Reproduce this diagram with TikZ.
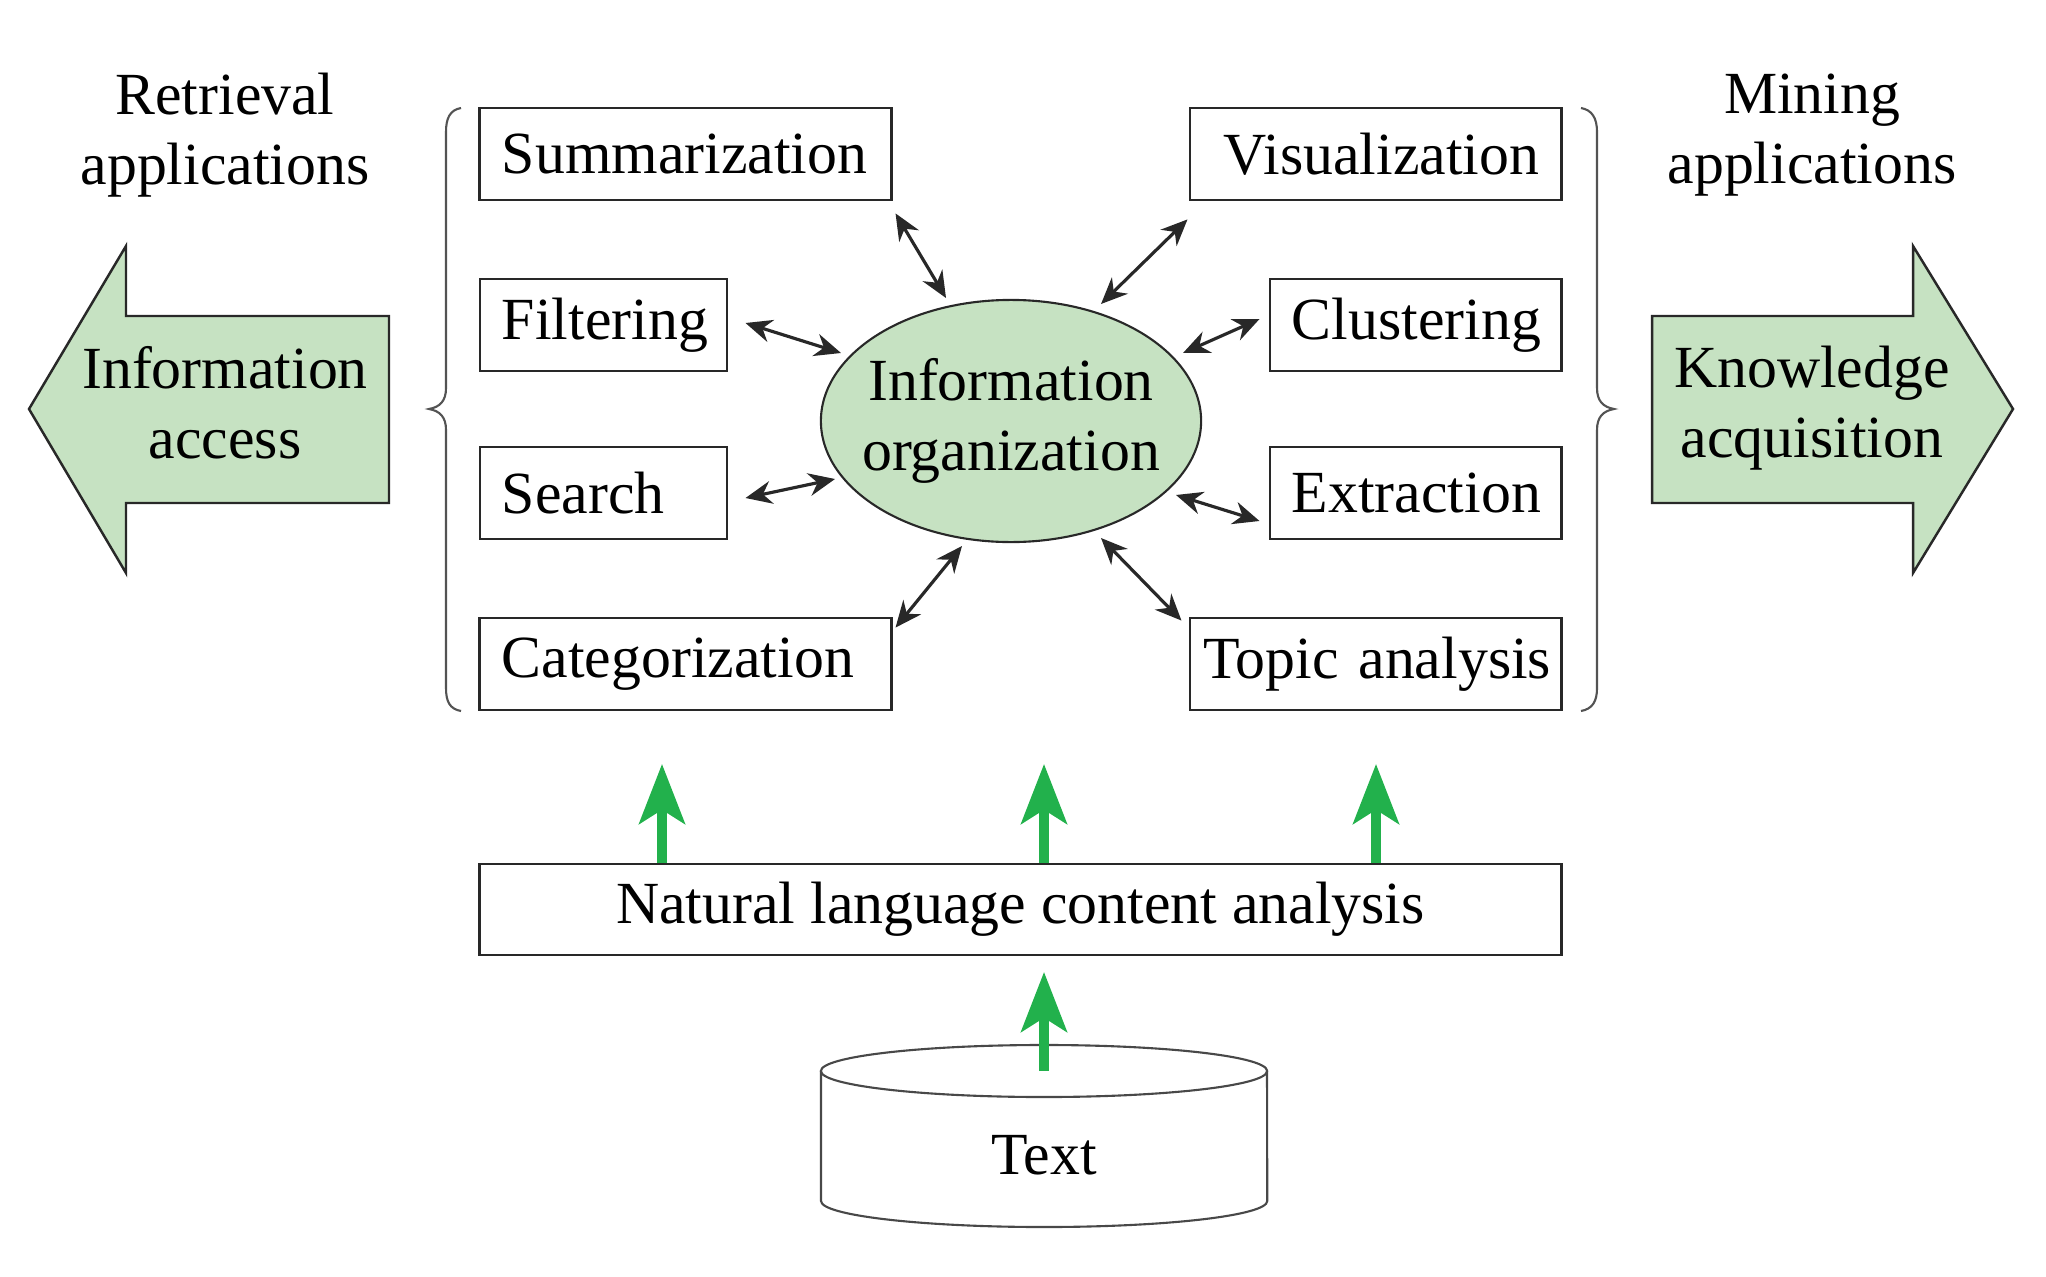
\documentclass[tikz,border=0pt]{standalone}
\usepackage{fontspec}
\setmainfont{Liberation Serif}
\usetikzlibrary{arrows.meta,shapes.geometric,calc}
\definecolor{lgreen}{RGB}{198,226,194}
\definecolor{agreen}{RGB}{34,177,76}
\definecolor{edge}{RGB}{40,40,40}
\begin{document}
\begin{tikzpicture}[x=0.01cm,y=-0.01cm,
  every node/.style={font=\fontsize{17}{20}\selectfont, text=black},
  box/.style={draw=edge, line width=0.8pt, minimum height=0.92cm, inner xsep=0.22cm, inner ysep=0pt},
  lbox/.style={box, align=left},
  rbox/.style={box, align=right},
  dbl/.style={{Stealth[length=7.5pt,width=6.5pt]}-{Stealth[length=7.5pt,width=6.5pt]}, line width=0.9pt, draw=edge},
  garrow/.style={-{Stealth[length=17pt,width=13pt,inset=4pt]}, line width=2.6pt, draw=agreen},
  bigarrow/.style={fill=lgreen, draw=edge, line width=0.7pt},
  bracestyle/.style={draw=edge!80, line width=0.6pt},
  plain/.style={align=center, inner sep=0pt}]
\useasboundingbox (0,0) rectangle (2046,1276);

% side headings
\node[plain] (ret) at (225,135) {Retrieval\\applications};
\node[plain] (min) at (1812,135) {Mining\\applications};

% big arrows
\draw[bigarrow] (29,409) -- (126,246) -- (126,316) -- (389,316) -- (389,503) -- (126,503) -- (126,573) -- cycle;
\node[plain] (acc) at (225,403) {Information\\access};
\draw[bigarrow] (2013,409) -- (1913,246) -- (1913,316) -- (1652,316) -- (1652,503) -- (1913,503) -- (1913,573) -- cycle;
\node[plain] (kno) at (1812,408) {Knowledge\\acquisition};

% braces
\draw[bracestyle] (461,108) .. controls (450,110) and (446,118) .. (446,132) -- (446,388)
  .. controls (446,401) and (440,407) .. (429,409) .. controls (440,411) and (446,417) .. (446,430)
  -- (446,688) .. controls (446,702) and (450,709) .. (461,711);
\draw[bracestyle] (1581,108) .. controls (1592,110) and (1597,118) .. (1597,132) -- (1597,388)
  .. controls (1597,401) and (1603,407) .. (1614,409) .. controls (1603,411) and (1597,417) .. (1597,430)
  -- (1597,688) .. controls (1597,702) and (1592,709) .. (1581,711);

% application boxes
\node[lbox, text width=3.67cm] (sum) at (685.5,154) {Summarization};
\node[lbox, text width=2.03cm] (fil) at (603.5,325) {Filtering};
\node[lbox, text width=2.03cm] (sea) at (603.5,493) {Search};
\node[lbox, text width=3.67cm] (cat) at (685.5,664) {Categorization};
\node[rbox, text width=3.27cm] (vis) at (1375.5,154) {Visualization};
\node[rbox, text width=2.47cm] (clu) at (1415.5,325) {Clustering};
\node[rbox, text width=2.47cm] (ext) at (1415.5,493) {Extraction};
\node[rbox, inner xsep=0.1cm, text width=3.51cm] (top) at (1375.5,664) {Topic analysis};

% central ellipse
\node[ellipse, fill=lgreen, draw=edge, line width=0.6pt, minimum width=3.8cm, minimum height=2.42cm, inner sep=0pt] (org) at (1011,421) {};
\node[plain] (orgtxt) at (org.center) {Information\\organization};

% double arrows
\draw[dbl] ($(sum.south east)+(3,12)$) -- ($(org.center)+(-65,-123)$);
\draw[dbl] ($(fil.east)+(17,-2)$) -- ($(org.center)+(-170,-68)$);
\draw[dbl] ($(sea.east)+(17,5)$) -- ($(org.center)+(-176,58)$);
\draw[dbl] ($(cat.north east)+(3,11)$) -- ($(org.center)+(-49,125)$);
\draw[dbl] ($(vis.south west)+(-1,18)$) -- ($(org.center)+(90,-117)$);
\draw[dbl] ($(clu.west)+(-9,-6)$) -- ($(org.center)+(172,-68)$);
\draw[dbl] ($(ext.west)+(-9,28)$) -- ($(org.center)+(165,74)$);
\draw[dbl] ($(top.north west)+(-7,4)$) -- ($(org.center)+(90,117)$);

% NL box
\node[box, minimum width=10.81cm, minimum height=0.91cm] (nl) at (1020.5,909.5) {Natural language content analysis};

% green arrows up
\coordinate (g1) at (662,764);
\coordinate (g2) at (1044,764);
\coordinate (g3) at (1376,764);
\draw[garrow] (nl.north -| g1) -- (g1);
\draw[garrow] (nl.north -| g2) -- (g2);
\draw[garrow] (nl.north -| g3) -- (g3);

% cylinder
\coordinate (cyltop) at (1044,1071);
\draw[draw=edge!85, line width=0.6pt] (cyltop) ellipse [x radius=2.23cm, y radius=0.26cm];
\draw[draw=edge!85, line width=0.6pt] (821,1071) -- (821,1201) arc[start angle=180, end angle=360, x radius=2.23cm, y radius=0.26cm] -- (1267,1071);
\node[plain] (txt) at (1044,1155) {Text};

\coordinate (g4) at (1044,972);
\draw[garrow] (cyltop) -- (g4);
\end{tikzpicture}
\end{document}
